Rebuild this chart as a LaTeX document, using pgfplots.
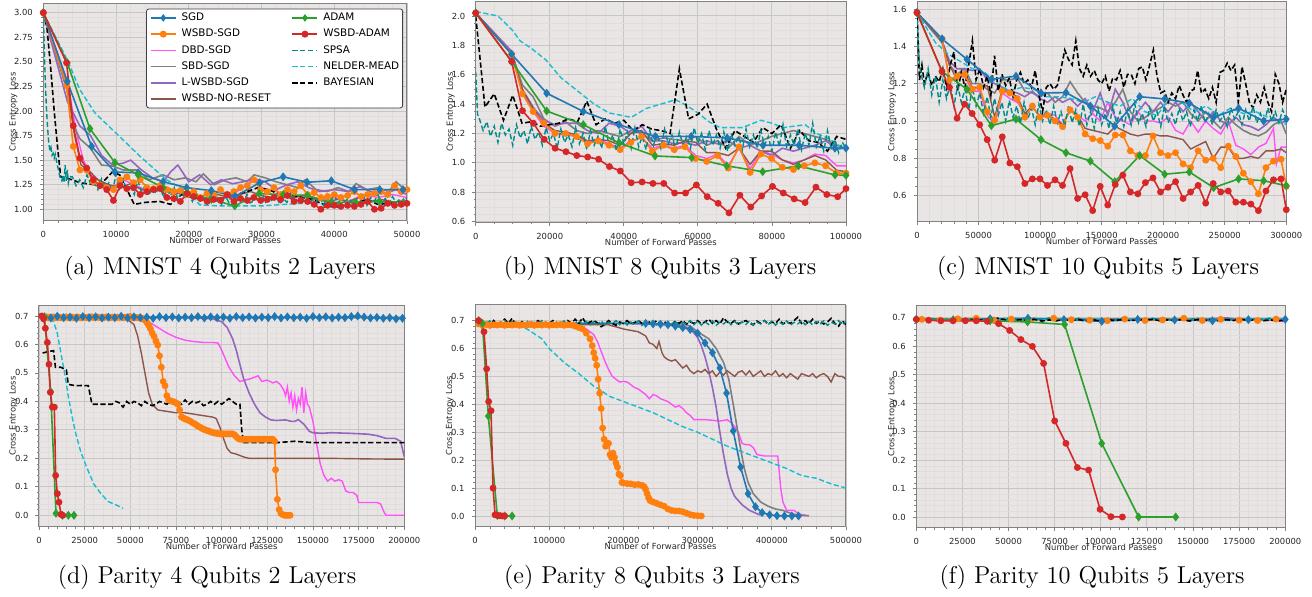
\documentclass[border=0pt]{standalone}
\usepackage{fontspec}
\usepackage{pgfplots}
\pgfplotsset{compat=1.18}
\newfontfamily\dejavu{DejaVu Sans}
\newcommand\tickfont{\dejavu\fontsize{4.2}{5}\selectfont}
\newcommand\legfont{\dejavu\fontsize{5.2}{6.2}\selectfont}
\newcommand\capfont{\fontsize{12.2}{14}\selectfont}
\definecolor{bgc}{RGB}{233,229,229}
\definecolor{gmaj}{RGB}{200,197,197}
\definecolor{gmin}{RGB}{225,221,221}
\definecolor{frm}{RGB}{130,130,130}
\definecolor{csgd}{RGB}{31,119,180}
\definecolor{cwsbd}{RGB}{255,127,14}
\definecolor{cdbd}{RGB}{255,80,250}
\definecolor{csbd}{RGB}{127,127,127}
\definecolor{clw}{RGB}{148,103,189}
\definecolor{cnr}{RGB}{140,86,75}
\definecolor{cadam}{RGB}{44,160,44}
\definecolor{cwadam}{RGB}{214,39,40}
\definecolor{cspsa}{RGB}{0,139,139}
\definecolor{cnm}{RGB}{23,190,207}
\pgfplotsset{
 sSGD/.style={color=csgd, line width=0.8pt, mark=diamond*, mark size=1.6pt},
 sWSBD/.style={color=cwsbd, line width=0.8pt, mark=*, mark size=1.3pt},
 sDBD/.style={color=cdbd, line width=0.7pt, mark=none},
 sSBD/.style={color=csbd, line width=0.8pt, mark=none},
 sLW/.style={color=clw, line width=0.8pt, mark=none},
 sNR/.style={color=cnr, line width=0.7pt, mark=none},
 sADAM/.style={color=cadam, line width=0.8pt, mark=diamond*, mark size=1.6pt},
 sWADAM/.style={color=cwadam, line width=0.8pt, mark=*, mark size=1.3pt},
 sSPSA/.style={color=cspsa, line width=0.7pt, dash pattern=on 2.6pt off 1.3pt, mark=none},
 sNM/.style={color=cnm, line width=0.7pt, dash pattern=on 2.6pt off 1.3pt, mark=none},
 sBAY/.style={color=black, line width=0.8pt, dash pattern=on 2.6pt off 1.3pt, mark=none},
 panel/.style={
  scale only axis, anchor=south west,
  axis background/.style={fill=bgc},
  grid=both,
  major grid style={draw=gmaj, line width=0.45pt},
  minor grid style={draw=gmin, line width=0.3pt},
  axis line style={draw=frm, line width=0.5pt},
  tick align=outside, xtick pos=left, ytick pos=left,
  major tick style={draw=frm, line width=0.4pt},
  minor tick style={draw=frm, line width=0.3pt},
  major tick length=1.75pt, minor tick length=1pt,
  /pgf/number format/assume math mode=true,
  tick label style={font=\tickfont, text=black!85},
  xticklabel style={/pgf/number format/.cd, fixed, 1000 sep={}},
  scaled x ticks=false, scaled y ticks=false,
  xlabel={Number of Forward Passes},
  every axis x label/.style={at={([yshift=-9.8pt]axis description cs:0.5,0)}, anchor=center, font=\tickfont, text=black!85},
  xmin=0,
 },
 lgline/.style 2 args={legend image code/.code={\draw[draw=#1, line width=0.8pt, #2] (0pt,0pt) -- (12.5pt,0pt);}},
 lgmark/.style 2 args={legend image code/.code={\draw[draw=#1, line width=0.8pt] (0pt,0pt) -- (12.5pt,0pt); \draw[draw=#1, fill=#1, line width=0.5pt, mark=#2, mark size=1.5pt] plot coordinates {(6.25pt,0pt)};}},
}
\tikzset{ylab/.style={rotate=90, anchor=center, font=\tickfont, text=black!85}}
\begin{document}
\begin{tikzpicture}
\path[use as bounding box] (0,0) rectangle (656pt,298.5pt);
% ================= (a)
\begin{axis}[panel, at={(21.65pt,188.15pt)}, width=181.85pt, height=108.7pt,
 xmax=50000, ymin=0.884, ymax=3.0956,
 xtick={0,10000,20000,30000,40000,50000}, ytick={1.00,1.25,1.50,1.75,2.00,2.25,2.50,2.75,3.00},
 minor x tick num=4, minor y tick num=4,
 yticklabel style={/pgf/number format/.cd, fixed, fixed zerofill, precision=2},
 legend columns=2, legend cell align=left,
 legend style={at={(0.988,0.974)}, anchor=north east, draw=none, fill=white, name=legA,
   font=\legfont, inner xsep=1.5pt, inner ysep=1.8pt, row sep=3.1pt,
   nodes={inner sep=0pt, text height=3.9pt, text depth=1.1pt},
   /tikz/every odd column/.append style={column sep=2.5pt},
   /tikz/every even column/.append style={column sep=10.5pt}},
]
\addlegendimage{lgmark={csgd}{diamond*}}\addlegendentry{SGD}
\addlegendimage{lgmark={cadam}{diamond*}}\addlegendentry{ADAM}
\addlegendimage{lgmark={cwsbd}{*}}\addlegendentry{WSBD-SGD}
\addlegendimage{lgmark={cwadam}{*}}\addlegendentry{WSBD-ADAM}
\addlegendimage{lgline={cdbd}{solid}}\addlegendentry{DBD-SGD}
\addlegendimage{lgline={cspsa}{dash pattern=on 2.6pt off 1.3pt}}\addlegendentry{SPSA}
\addlegendimage{lgline={csbd}{solid}}\addlegendentry{SBD-SGD}
\addlegendimage{lgline={cnm}{dash pattern=on 2.6pt off 1.3pt}}\addlegendentry{NELDER-MEAD}
\addlegendimage{lgline={clw}{solid}}\addlegendentry{L-WSBD-SGD}
\addlegendimage{lgline={black}{dash pattern=on 2.6pt off 1.3pt}}\addlegendentry{BAYESIAN}
\addlegendimage{lgline={cnr}{solid}}\addlegendentry{WSBD-NO-RESET}
\addplot[sDBD, forget plot] coordinates {(0,3.0)(3300,2.3)(4500,1.8)(5500,1.5)(6500,1.35)(8000,1.28)(9500,1.22)(11000,1.30)(12500,1.25)(14000,1.20)(16000,1.22)(18000,1.18)(20000,1.15)(22000,1.12)(24000,1.10)(26000,1.15)(28000,1.25)(29000,1.32)(30000,1.22)(32000,1.18)(34000,1.12)(36000,1.15)(38000,1.10)(40000,1.12)(42000,1.08)(44000,1.15)(46000,1.12)(48000,1.15)(50000,1.12)};
\addplot[sSBD, forget plot] coordinates {(0,3.0)(3300,2.2)(4200,1.85)(5000,1.72)(6500,1.62)(8000,1.45)(9500,1.44)(11000,1.40)(13000,1.40)(14500,1.30)(16500,1.35)(18000,1.30)(19500,1.32)(21000,1.28)(22000,1.36)(23500,1.25)(25000,1.30)(26500,1.32)(28000,1.28)(29000,1.35)(30500,1.32)(32000,1.28)(33500,1.25)(35000,1.22)(36000,1.30)(37500,1.20)(39000,1.18)(40500,1.22)(42000,1.18)(43000,1.26)(44500,1.20)(46000,1.22)(47500,1.18)(48500,1.28)(50000,1.18)};
\addplot[sLW, forget plot] coordinates {(0,3.0)(3300,2.1)(5000,1.85)(6500,1.75)(8000,1.55)(9500,1.45)(11000,1.47)(12000,1.50)(13500,1.40)(15000,1.32)(16500,1.28)(17500,1.38)(18500,1.45)(20000,1.28)(21500,1.35)(23000,1.25)(24500,1.30)(26000,1.26)(27500,1.28)(29000,1.31)(30500,1.28)(32000,1.20)(33500,1.25)(35000,1.28)(36500,1.22)(38000,1.18)(40000,1.20)(42000,1.18)(43500,1.23)(45000,1.18)(47000,1.16)(48500,1.20)(50000,1.15)};
\addplot[sNR, forget plot] coordinates {(0,3.0)(3300,2.25)(4300,1.75)(5200,1.45)(6200,1.40)(7500,1.30)(9000,1.25)(10500,1.22)(12000,1.26)(13500,1.20)(15000,1.18)(16500,1.22)(18000,1.15)(19500,1.18)(21000,1.12)(22500,1.10)(24000,1.15)(25500,1.12)(27000,1.15)(28500,1.18)(30000,1.14)(31500,1.12)(33000,1.16)(34500,1.12)(36000,1.14)(37500,1.10)(39000,1.08)(40500,1.10)(42000,1.08)(43500,1.12)(45000,1.08)(46500,1.10)(48000,1.07)(50000,1.08)};
\addplot[sNM, forget plot] coordinates {(0,3.0)(3430,2.5)(5000,2.22)(7100,1.98)(10070,1.77)(13280,1.54)(16940,1.30)(19900,1.18)(21520,1.045)(23800,1.035)(30200,1.035)(35250,1.06)(39800,1.06)(44400,1.09)(47000,1.07)(50000,1.06)};
\addplot[sBAY, forget plot] coordinates {(0,3.0)(500,2.85)(1000,2.45)(1500,2.0)(2000,1.6)(2400,1.33)(4000,1.30)(5000,1.27)(7000,1.25)(8500,1.30)(9500,1.38)(10500,1.35)(11500,1.20)(12500,1.05)(14000,1.07)(16000,1.08)(17500,1.05)(19000,1.15)(20500,1.12)(22000,1.10)(23500,1.10)(25000,1.12)(26500,1.15)(28000,1.18)(29500,1.22)(31000,1.20)(32500,1.15)(34000,1.15)(35500,1.12)(37000,1.10)(38500,1.05)(40000,1.02)(41500,1.04)(43000,1.06)(44500,1.10)(46000,1.05)(47500,1.06)(49000,1.08)(50000,1.08)};
\addplot[sWSBD, forget plot] coordinates {(0,3.0)(3200,2.26)(4120,1.64)(5040,1.40)(5960,1.40)(6880,1.28)(7800,1.25)(8720,1.22)(9640,1.20)(10560,1.30)(11480,1.33)(12400,1.27)(13320,1.30)(14240,1.22)(15160,1.21)(16080,1.24)(17000,1.20)(17920,1.18)(18840,1.19)(19760,1.15)(20680,1.18)(21600,1.12)(22520,1.16)(23440,1.14)(24360,1.20)(25280,1.15)(26200,1.18)(27120,1.22)(28040,1.24)(28960,1.30)(29880,1.20)(30800,1.18)(31720,1.22)(32640,1.15)(33560,1.20)(34480,1.18)(35400,1.24)(36320,1.15)(37240,1.17)(38160,1.12)(39080,1.13)(40000,1.15)(40920,1.12)(41840,1.14)(42760,1.18)(43680,1.13)(44600,1.15)(45520,1.16)(46440,1.18)(47360,1.15)(48280,1.24)(49200,1.18)(50000,1.20)};
\addplot[sSPSA, forget plot] coordinates {(0,3.0)(150,2.6)(300,2.25)(450,2.0)(600,1.82)(750,1.68)(900,1.6)(1050,1.63)(1200,1.55)(1350,1.57)(1500,1.52)(1650,1.56)(1800,1.50)(1950,1.44)(2100,1.40)(2250,1.34)(2400,1.31)(2550,1.29)(2700,1.35)(2850,1.27)(3000,1.45)(3150,1.29)(3300,1.40)(3450,1.27)(3600,1.33)
(4000,1.33)(4500,1.24)(5000,1.30)(5500,1.22)(6000,1.35)(6500,1.26)(7000,1.28)(7500,1.20)(8000,1.31)(8500,1.22)(9000,1.27)(9500,1.17)(10000,1.36)(10500,1.21)(11000,1.30)(11500,1.19)(12000,1.25)(12500,1.15)(13000,1.29)(13500,1.18)(14000,1.24)(14500,1.14)(15000,1.22)(15500,1.16)(16000,1.26)(16500,1.12)(17000,1.20)(17500,1.14)(18000,1.22)(18500,1.10)(19000,1.18)(19500,1.12)(20000,1.15)(20500,1.08)(21000,1.17)(21500,1.09)(22000,1.13)(22500,1.06)(23000,1.16)(23500,1.08)(24000,1.12)(24500,1.05)(25000,1.14)(25500,1.07)(26000,1.18)(26500,1.06)(27000,1.13)(27500,1.08)(28000,1.15)(28500,1.05)(29000,1.12)(29500,1.09)(30000,1.17)(30500,1.06)(31000,1.13)(31500,1.08)(32000,1.14)(32500,1.05)(33000,1.11)(33500,1.07)(34000,1.16)(34500,1.06)(35000,1.12)(35500,1.08)(36000,1.14)(36500,1.05)(37000,1.10)(37500,1.07)(38000,1.13)(38500,1.04)(39000,1.12)(39500,1.08)(40000,1.15)(40500,1.06)(41000,1.11)(41500,1.07)(42000,1.13)(42500,1.05)(43000,1.10)(43500,1.07)(44000,1.14)(44500,1.04)(45000,1.12)(45500,1.08)(46000,1.15)(46500,1.06)(47000,1.11)(47500,1.05)(48000,1.13)(48500,1.07)(49000,1.10)(49500,1.06)(50000,1.12)};
\addplot[sSGD, forget plot] coordinates {(0,3.0)(3300,2.30)(6640,1.64)(9840,1.38)(13050,1.37)(16480,1.28)(19700,1.22)(23100,1.19)(26330,1.13)(29760,1.27)(32970,1.33)(36260,1.275)(39600,1.29)(42800,1.20)(46250,1.20)(49450,1.20)};
\addplot[sADAM, forget plot] coordinates {(0,3.0)(3300,2.49)(6410,1.82)(9840,1.475)(13050,1.35)(16480,1.22)(19800,1.17)(23100,1.10)(26330,1.035)(29670,1.16)(33000,1.15)(36300,1.14)(39600,1.07)(42900,1.07)(46200,1.08)(49500,1.07)};
\addplot[sWADAM, forget plot] coordinates {(0,3.0)(3200,2.49)(4120,1.85)(5040,1.52)(5960,1.42)(6880,1.30)(7800,1.24)(8720,1.20)(9640,1.09)(10560,1.24)(11480,1.21)(12400,1.22)(13320,1.15)(14240,1.18)(15160,1.20)(16080,1.21)(17000,1.12)(17920,1.11)(18840,1.08)(19760,1.16)(20680,1.13)(21600,1.11)(22520,1.08)(23440,1.10)(24360,1.09)(25280,1.15)(26200,1.08)(27120,1.11)(28040,1.09)(28960,1.12)(29880,1.09)(30800,1.10)(31720,1.12)(32640,1.10)(33560,1.14)(34480,1.08)(35400,1.09)(36320,1.08)(37240,1.05)(38160,1.00)(39080,1.04)(40000,1.04)(40920,1.03)(41840,1.04)(42760,1.03)(43680,1.05)(44600,1.08)(45520,1.00)(46440,1.01)(47360,1.06)(48280,1.04)(49200,1.05)(50000,1.06)};
\end{axis}
\draw[black!75, line width=0.4pt, rounded corners=1.2pt] (legA.south west) rectangle (legA.north east);
% ================= (b)
\begin{axis}[panel, at={(237.85pt,187.25pt)}, width=185.15pt, height=110.25pt,
 xmax=100000, ymin=0.5945, ymax=2.095,
 xtick={0,20000,40000,60000,80000,100000}, ytick={0.6,0.8,1.0,1.2,1.4,1.6,1.8,2.0},
 minor x tick num=3, minor y tick num=3,
 yticklabel style={/pgf/number format/.cd, fixed, fixed zerofill, precision=1},
]
\addplot[sDBD] coordinates {(0,2.02)(9700,1.74)(12600,1.48)(15500,1.35)(18400,1.25)(21400,1.20)(24300,1.19)(27200,1.18)(30200,1.14)(33100,1.16)(36000,1.13)(39000,1.10)(41900,1.15)(44800,1.17)(47700,1.10)(50700,1.12)(53600,1.10)(56500,1.12)(59400,1.05)(62400,1.03)(65300,1.06)(68200,0.98)(71100,1.10)(74100,0.96)(77000,1.08)(79900,1.06)(82800,1.02)(85800,1.00)(88700,1.02)(91600,1.06)(94500,1.05)(97500,0.98)(100000,0.98)};
\addplot[sSBD] coordinates {(0,2.02)(9700,1.75)(12600,1.53)(15500,1.45)(18400,1.30)(21400,1.25)(24300,1.28)(27200,1.22)(30200,1.20)(33100,1.22)(36000,1.20)(39000,1.18)(41900,1.22)(44800,1.20)(47700,1.15)(50700,1.17)(53600,1.16)(56500,1.15)(59400,1.18)(62400,1.12)(65300,1.15)(68200,1.10)(71100,1.18)(74100,1.12)(77000,1.15)(79900,1.18)(82800,1.20)(85800,1.22)(88700,1.20)(91600,1.18)(94500,1.16)(97500,1.12)(100000,1.10)};
\addplot[sLW] coordinates {(0,2.02)(9700,1.76)(12600,1.50)(15500,1.38)(18400,1.29)(21400,1.26)(24300,1.27)(27200,1.27)(30200,1.22)(33100,1.20)(36000,1.27)(39000,1.25)(41900,1.20)(44800,1.25)(47700,1.15)(50700,1.15)(53600,1.13)(56500,1.14)(59400,1.12)(62400,1.15)(65300,1.13)(68200,1.15)(71100,1.10)(74100,1.12)(77000,1.08)(79900,1.05)(82800,1.10)(85800,1.08)(88700,1.10)(91600,1.12)(94500,1.15)(97500,1.10)(100000,1.10)};
\addplot[sNR] coordinates {(0,2.02)(9700,1.74)(12600,1.50)(15500,1.37)(18400,1.27)(21400,1.22)(24300,1.21)(27200,1.19)(30200,1.15)(33100,1.16)(36000,1.15)(39000,1.12)(41900,1.20)(44800,1.22)(47700,1.12)(50700,1.13)(53600,1.12)(56500,1.15)(59400,1.14)(62400,1.07)(65300,1.07)(68200,1.05)(71100,1.10)(74100,0.99)(77000,1.08)(79900,1.08)(82800,1.02)(85800,0.99)(88700,1.02)(91600,1.05)(94500,1.02)(97500,0.95)(100000,0.94)};
\addplot[sNM] coordinates {(0,2.03)(6000,2.0)(10000,1.90)(12000,1.83)(15000,1.78)(19000,1.70)(23000,1.58)(28000,1.48)(32000,1.40)(36000,1.34)(40000,1.32)(42000,1.31)(46000,1.37)(50000,1.40)(54000,1.43)(57000,1.39)(60000,1.34)(63000,1.28)(66000,1.24)(69000,1.24)(72000,1.24)(75000,1.27)(77000,1.29)(80000,1.27)(83000,1.24)(86000,1.25)(89000,1.26)(92000,1.20)(95000,1.17)(98000,1.12)(100000,1.10)};
\addplot[sBAY] coordinates {(0,2.0)(2500,1.38)(5000,1.47)(7500,1.29)(10000,1.46)(12500,1.27)(15000,1.28)(17500,1.25)(20000,1.26)(22500,1.27)(25000,1.30)(27500,1.28)(30000,1.42)(32500,1.26)(35000,1.30)(37500,1.27)(40000,1.29)(42500,1.22)(45000,1.26)(47500,1.23)(50000,1.22)(52500,1.20)(55000,1.64)(57500,1.30)(60000,1.33)(62500,1.40)(65000,1.23)(67500,1.10)(70000,1.22)(72500,1.18)(75000,1.14)(77500,1.24)(80000,1.20)(82500,1.26)(85000,1.10)(87500,1.22)(90000,1.15)(92500,1.14)(95000,1.08)(97500,1.18)(100000,1.16)};
\addplot[sWSBD] coordinates {(0,2.02)(9700,1.74)(12600,1.47)(15500,1.35)(18400,1.27)(21400,1.20)(24300,1.20)(27200,1.18)(30200,1.13)(33100,1.15)(36000,1.12)(39000,1.09)(41900,1.14)(44800,1.18)(47700,1.08)(50700,1.12)(53600,1.09)(56500,1.11)(59400,1.03)(62400,1.01)(65300,1.05)(68200,0.965)(71100,1.11)(74100,0.935)(77000,1.06)(79900,1.03)(82800,0.97)(85800,0.955)(88700,0.98)(91600,1.00)(94500,0.98)(97500,0.93)(100000,0.93)};
\addplot[sSPSA] coordinates {(0,1.62)(500,1.33)(1000,1.30)(2000,1.22)(3000,1.28)(4000,1.18)(5000,1.25)(6000,1.14)(7000,1.27)(8000,1.19)(9000,1.23)(10000,1.12)(11000,1.26)(12000,1.17)(13000,1.22)(14000,1.13)(15000,1.25)(16000,1.16)(17000,1.21)(18000,1.12)(19000,1.24)(20000,1.15)(21000,1.20)(22000,1.10)(23000,1.23)(24000,1.14)(25000,1.19)(26000,1.11)(27000,1.24)(28000,1.13)(29000,1.20)(30000,1.09)(31000,1.22)(32000,1.12)(33000,1.18)(34000,1.10)(35000,1.25)(36000,1.12)(37000,1.19)(38000,1.08)(39000,1.23)(40000,1.13)(41000,1.21)(42000,1.10)(43000,1.24)(44000,1.11)(45000,1.18)(46000,1.09)(47000,1.22)(48000,1.12)(49000,1.20)(50000,1.10)(51000,1.23)(52000,1.13)(53000,1.19)(54000,1.09)(55000,1.21)(56000,1.12)(57000,1.18)(58000,1.10)(59000,1.24)(60000,1.13)(61000,1.20)(62000,1.09)(63000,1.22)(64000,1.12)(65000,1.19)(66000,1.10)(67000,1.21)(68000,1.08)(69000,1.20)(70000,1.12)(71000,1.18)(72000,1.09)(73000,1.23)(74000,1.11)(75000,1.19)(76000,1.10)(77000,1.22)(78000,1.12)(79000,1.18)(80000,1.08)(81000,1.21)(82000,1.11)(83000,1.26)(84000,1.10)(85000,1.19)(86000,1.12)(87000,1.23)(88000,1.09)(89000,1.20)(90000,1.12)(91000,1.27)(92000,1.11)(93000,1.18)(94000,1.08)(95000,1.22)(96000,1.10)(97000,1.16)(98000,1.07)(99000,1.14)(100000,1.10)};
\addplot[sSGD] coordinates {(0,2.02)(9700,1.74)(19170,1.474)(29070,1.35)(38700,1.26)(48500,1.18)(58200,1.18)(67900,1.17)(77600,1.12)(87300,1.12)(97000,1.10)(100000,1.10)};
\addplot[sADAM] coordinates {(0,2.02)(9720,1.69)(19170,1.353)(29070,1.26)(38800,1.135)(48430,1.047)(58330,1.036)(67780,0.98)(77500,0.94)(87130,0.98)(97030,0.918)(100000,0.915)};
\addplot[sWADAM] coordinates {(0,2.02)(9700,1.69)(12635,1.355)(15570,1.27)(18500,1.16)(21440,1.10)(24375,1.076)(27310,1.05)(30245,1.04)(33180,1.025)(36115,0.975)(39050,0.945)(41985,0.865)(44920,0.87)(47855,0.86)(50790,0.86)(53725,0.795)(56660,0.795)(59595,0.85)(62530,0.77)(65465,0.725)(68400,0.66)(71335,0.78)(74270,0.70)(77205,0.775)(80140,0.84)(83075,0.795)(86010,0.755)(88945,0.73)(91880,0.835)(94815,0.785)(97750,0.77)(100000,0.825)};
\end{axis}
% ================= (c)
\begin{axis}[panel, at={(458.5pt,187.65pt)}, width=184.65pt, height=110.1pt,
 xmax=300000, ymin=0.4607, ymax=1.640,
 xtick={0,50000,100000,150000,200000,250000,300000}, ytick={0.6,0.8,1.0,1.2,1.4,1.6},
 minor x tick num=4, minor y tick num=3,
 yticklabel style={/pgf/number format/.cd, fixed, fixed zerofill, precision=1},
]
\addplot[sDBD] coordinates {(0,1.58)(20300,1.44)(26420,1.22)(32540,1.23)(38660,1.24)(44780,1.16)(50900,1.16)(57020,1.03)(63140,0.985)(69260,1.15)(75380,1.12)(81500,1.10)(87620,1.04)(93740,1.07)(99860,1.03)(105980,1.04)(112100,1.03)(118220,0.98)(124340,1.06)(130460,1.03)(136580,1.00)(142700,1.04)(148820,1.00)(154940,1.10)(161060,1.02)(167180,1.00)(173300,0.98)(179420,1.05)(185540,1.00)(191660,1.00)(197780,0.99)(203900,1.02)(210020,0.95)(216140,0.93)(222260,1.00)(228380,0.94)(234500,1.00)(240620,0.96)(246740,0.93)(252860,1.00)(258980,0.87)(265100,0.85)(271220,0.82)(277340,0.86)(283460,0.88)(289580,0.96)(292000,0.77)(295700,0.86)(300000,0.86)};
\addplot[sSBD] coordinates {(0,1.58)(20300,1.42)(26420,1.30)(32540,1.25)(38660,1.28)(44780,1.20)(50900,1.20)(57020,1.17)(63140,1.15)(69260,1.22)(75380,1.22)(81500,1.23)(87620,1.16)(93740,1.15)(99860,1.13)(105980,1.15)(112100,1.10)(118220,1.13)(124340,1.21)(130460,1.15)(136580,1.10)(142700,1.08)(148820,1.07)(154940,1.05)(161060,1.10)(167180,1.17)(173300,1.05)(179420,1.00)(185540,1.02)(191660,1.05)(197780,1.07)(203900,1.10)(210020,1.08)(216140,1.10)(222260,1.04)(228380,1.00)(234500,1.05)(240620,1.00)(246740,0.96)(252860,1.02)(258980,0.98)(265100,0.95)(271220,0.93)(277340,0.92)(283460,0.94)(289580,0.98)(295700,1.00)(300000,0.93)};
\addplot[sLW] coordinates {(0,1.58)(20300,1.43)(26420,1.32)(32540,1.28)(38660,1.28)(44780,1.27)(50900,1.28)(57020,1.22)(63140,1.20)(69260,1.18)(75380,1.16)(81500,1.15)(87620,1.13)(93740,1.16)(99860,1.12)(105980,1.10)(112100,1.13)(118220,1.10)(124340,1.12)(130460,1.08)(136580,1.12)(142700,1.05)(148820,1.15)(154940,1.03)(161060,1.17)(167180,1.10)(173300,1.00)(179420,1.05)(185540,1.10)(191660,1.05)(197780,1.10)(203900,1.05)(210020,1.10)(216140,1.05)(222260,1.10)(228380,1.05)(234500,1.00)(240620,1.05)(246740,1.00)(252860,0.98)(258980,1.02)(265100,0.98)(271220,0.97)(277340,0.95)(283460,0.98)(289580,1.02)(295700,0.99)(300000,1.00)};
\addplot[sNR] coordinates {(0,1.58)(20300,1.43)(26420,1.30)(32540,1.22)(38660,1.26)(44780,1.18)(50900,1.18)(57020,1.19)(63140,1.02)(69260,1.17)(75380,1.15)(81500,1.13)(87620,1.04)(93740,1.08)(99860,1.02)(105980,1.03)(112100,1.01)(118220,0.98)(124340,1.06)(130460,1.03)(136580,0.96)(142700,0.95)(148820,0.94)(154940,0.93)(161060,0.97)(167180,0.95)(173300,0.93)(179420,0.92)(185540,0.93)(191660,0.93)(197780,0.92)(203900,0.92)(210020,0.91)(216140,0.90)(222260,0.85)(228380,0.87)(234500,0.89)(240620,0.80)(246740,0.86)(252860,0.86)(258980,0.80)(265100,0.80)(271220,0.81)(277340,0.80)(283460,0.84)(289580,0.84)(295700,0.85)(300000,0.83)};
\addplot[sNM] coordinates {(0,1.58)(15000,1.42)(25000,1.36)(35000,1.32)(45000,1.28)(55000,1.26)(65000,1.20)(75000,1.16)(85000,1.18)(95000,1.17)(105000,1.13)(115000,1.13)(125000,1.12)(135000,1.10)(145000,1.13)(155000,1.10)(165000,1.08)(175000,1.12)(185000,1.05)(195000,1.03)(205000,1.12)(215000,1.10)(225000,1.05)(235000,1.08)(245000,1.03)(255000,1.07)(265000,1.04)(275000,1.05)(285000,1.02)(295000,1.00)(300000,0.98)};
\addplot[sBAY] coordinates {(0,1.60)(2000,1.22)(4000,1.30)(6000,1.20)(9000,1.26)(12000,1.19)(15000,1.24)(18000,1.21)(21000,1.28)(24000,1.18)(27000,1.30)(30000,1.37)(33000,1.16)(36000,1.26)(39000,1.18)(42000,1.30)(45000,1.43)(48000,1.22)(51000,1.28)(54000,1.18)(57000,1.24)(60000,1.14)(63000,1.35)(66000,1.16)(69000,1.25)(72000,1.19)(75000,1.23)(78000,1.13)(81000,1.22)(84000,1.26)(87000,1.20)(90000,1.22)(93000,1.18)(96000,1.27)(99000,1.14)(102000,1.05)(105000,1.18)(108000,1.20)(111000,1.17)(114000,1.19)(117000,1.28)(120000,1.38)(123000,1.33)(126000,1.30)(129000,1.43)(132000,1.28)(135000,1.24)(138000,1.30)(141000,1.24)(144000,1.27)(147000,1.22)(150000,1.20)(153000,1.24)(156000,1.16)(159000,1.23)(162000,1.22)(165000,1.27)(168000,1.18)(171000,1.25)(174000,1.25)(177000,1.20)(180000,1.28)(183000,1.29)(186000,1.22)(189000,1.30)(192000,1.38)(195000,1.24)(198000,1.15)(201000,1.16)(204000,1.10)(207000,1.15)(210000,1.12)(213000,1.19)(216000,1.14)(219000,1.10)(222000,1.16)(225000,1.17)(228000,1.27)(231000,1.15)(234000,1.17)(237000,1.12)(240000,1.18)(243000,1.10)(246000,1.26)(249000,1.27)(252000,1.31)(255000,1.27)(258000,1.30)(261000,1.10)(264000,1.29)(267000,1.20)(270000,1.10)(273000,1.07)(276000,1.14)(279000,1.10)(282000,1.18)(285000,1.10)(288000,1.05)(291000,1.25)(294000,1.20)(297000,1.10)(300000,1.17)};
\addplot[sWSBD] coordinates {(0,1.58)(20300,1.44)(26420,1.22)(32540,1.24)(38660,1.25)(44780,1.17)(50900,1.18)(57020,1.05)(63140,1.005)(69260,1.16)(75380,1.15)(81500,1.12)(87620,1.02)(93740,1.08)(99860,1.02)(105980,1.03)(112100,1.00)(118220,0.97)(124340,1.06)(130460,1.02)(136580,0.93)(142700,0.905)(148820,0.895)(154940,0.865)(161060,0.925)(167180,0.925)(173300,0.84)(179420,0.815)(185540,0.815)(191660,0.92)(197780,0.83)(203900,0.815)(210020,0.83)(216140,0.77)(222260,0.75)(228380,0.84)(234500,0.79)(240620,0.80)(246740,0.75)(252860,0.865)(258980,0.81)(265100,0.72)(271220,0.675)(277340,0.61)(283460,0.75)(289580,0.785)(295700,0.795)(300000,0.65)};
\addplot[sSPSA] coordinates {(0,1.58)(1000,1.40)(2000,1.30)(3000,1.26)(6000,1.18)(9000,1.28)(12000,1.14)(15000,1.24)(18000,1.10)(21000,1.22)(24000,1.12)(27000,1.20)(30000,1.08)(33000,1.19)(36000,1.10)(39000,1.17)(42000,1.06)(45000,1.18)(48000,1.08)(51000,1.15)(54000,1.04)(57000,1.13)(60000,1.02)(63000,1.12)(66000,1.03)(69000,1.10)(72000,1.00)(75000,1.11)(78000,1.02)(81000,1.08)(84000,0.99)(87000,1.10)(90000,1.01)(93000,1.07)(96000,0.98)(99000,1.09)(102000,1.00)(105000,1.06)(108000,0.98)(111000,1.08)(114000,0.99)(117000,1.05)(120000,0.97)(123000,1.08)(126000,0.99)(129000,1.06)(132000,0.97)(135000,1.09)(138000,0.98)(141000,1.05)(144000,0.96)(147000,1.07)(150000,0.98)(153000,1.04)(156000,0.96)(159000,1.08)(162000,0.99)(165000,1.05)(168000,0.97)(171000,1.06)(174000,0.98)(177000,1.09)(180000,0.99)(183000,1.04)(186000,0.97)(189000,1.07)(192000,1.00)(195000,1.05)(198000,0.97)(201000,1.08)(204000,0.99)(207000,1.04)(210000,0.98)(213000,1.07)(216000,1.00)(219000,1.05)(222000,0.97)(225000,1.06)(228000,1.00)(231000,1.08)(234000,0.99)(237000,1.04)(240000,0.98)(243000,1.06)(246000,1.00)(249000,1.03)(252000,0.97)(255000,1.07)(258000,1.01)(261000,1.05)(264000,0.98)(267000,1.06)(270000,1.00)(273000,1.08)(276000,0.99)(279000,1.04)(282000,0.98)(285000,1.07)(288000,1.00)(291000,1.05)(294000,0.99)(297000,1.06)(300000,1.01)};
\addplot[sSGD] coordinates {(0,1.58)(20300,1.44)(40600,1.33)(60400,1.223)(80400,1.24)(100700,1.15)(121000,1.152)(140800,1.08)(160600,0.973)(180900,1.13)(201200,1.118)(221200,1.095)(241000,1.02)(261300,1.068)(281600,1.0)(300000,1.01)};
\addplot[sADAM] coordinates {(0,1.58)(20300,1.265)(40600,1.17)(60400,0.975)(80400,1.01)(100700,0.90)(121000,0.83)(140800,0.785)(160600,0.675)(180900,0.815)(201200,0.715)(221200,0.727)(241000,0.643)(261300,0.69)(281600,0.68)(300000,0.653)};
\addplot[sWADAM] coordinates {(0,1.58)(20300,1.265)(26420,1.18)(32540,1.015)(38660,1.09)(44780,1.04)(50900,0.98)(57020,0.90)(63140,0.79)(69260,0.915)(75380,0.775)(81500,0.755)(87620,0.665)(93740,0.69)(99860,0.69)(105980,0.655)(112100,0.685)(118220,0.655)(124340,0.745)(130460,0.585)(136580,0.605)(142700,0.52)(148820,0.65)(154940,0.55)(161060,0.66)(167180,0.71)(173300,0.62)(179420,0.61)(185540,0.67)(191660,0.695)(197780,0.62)(203900,0.645)(210020,0.675)(216140,0.585)(222260,0.62)(228380,0.655)(234500,0.56)(240620,0.665)(246740,0.62)(252860,0.625)(258980,0.565)(265100,0.565)(271220,0.555)(277340,0.52)(283460,0.625)(289580,0.685)(295700,0.69)(300000,0.525)};
\end{axis}
% ================= (d)
\begin{axis}[panel, at={(19.5pt,35.15pt)}, width=182.65pt, height=110.7pt,
 xmax=200000, ymin=-0.040, ymax=0.7376,
 xtick={0,25000,50000,75000,100000,125000,150000,175000,200000}, ytick={0.0,0.1,0.2,0.3,0.4,0.5,0.6,0.7},
 minor x tick num=4, minor y tick num=4,
 yticklabel style={/pgf/number format/.cd, fixed, fixed zerofill, precision=1},
]
\addplot[sSBD] coordinates {(2000,0.70)(50000,0.696)(100000,0.695)(150000,0.694)(200000,0.694)};
\addplot[sSPSA] coordinates {(2000,0.70)(40000,0.697)(80000,0.695)(120000,0.696)(160000,0.694)(200000,0.694)};
\addplot[sDBD] coordinates {(2000,0.70)(20000,0.695)(45000,0.69)(55000,0.685)(60000,0.68)(65000,0.66)(70000,0.64)(75000,0.625)(80000,0.615)(85000,0.61)(90000,0.607)(95000,0.607)(98000,0.605)(100000,0.58)(102000,0.55)(104000,0.52)(107000,0.49)(110000,0.47)(113000,0.475)(116000,0.48)(118000,0.485)(120000,0.49)(122000,0.47)(125000,0.475)(128000,0.465)(130000,0.47)(132000,0.46)(134000,0.44)(135000,0.42)(136000,0.45)(137000,0.40)(138000,0.43)(139000,0.38)(140000,0.42)(141000,0.37)(142000,0.41)(143000,0.39)(144000,0.45)(145000,0.36)(146000,0.43)(147000,0.39)(148000,0.38)(150000,0.33)(152000,0.25)(154000,0.18)(156000,0.14)(158000,0.12)(160000,0.13)(162000,0.12)(164000,0.125)(166000,0.12)(168000,0.085)(170000,0.08)(172000,0.08)(174000,0.07)(175000,0.045)(180000,0.045)(185000,0.045)(187000,0.04)(189000,0.01)(190000,0.0)(200000,0.0)};
\addplot[sLW] coordinates {(2000,0.70)(50000,0.695)(80000,0.695)(95000,0.69)(100000,0.68)(103000,0.66)(106000,0.62)(108000,0.58)(110000,0.53)(112000,0.48)(115000,0.43)(118000,0.39)(121000,0.36)(124000,0.345)(127000,0.335)(130000,0.333)(135000,0.335)(138000,0.33)(140000,0.33)(142000,0.336)(145000,0.32)(148000,0.295)(150000,0.29)(155000,0.288)(160000,0.29)(170000,0.288)(180000,0.285)(185000,0.28)(190000,0.27)(195000,0.27)(198000,0.26)(200000,0.205)};
\addplot[sNR] coordinates {(2000,0.70)(40000,0.695)(48000,0.69)(52000,0.67)(54000,0.63)(56000,0.57)(58000,0.50)(60000,0.43)(62000,0.39)(65000,0.37)(70000,0.365)(75000,0.36)(80000,0.36)(85000,0.355)(90000,0.35)(95000,0.345)(97000,0.34)(99000,0.31)(101000,0.27)(103000,0.235)(105000,0.22)(108000,0.215)(110000,0.21)(112000,0.205)(115000,0.20)(120000,0.20)(140000,0.20)(160000,0.20)(180000,0.198)(200000,0.197)};
\addplot[sNM] coordinates {(2000,0.70)(5000,0.695)(7000,0.685)(8000,0.68)(10000,0.64)(12000,0.57)(14000,0.50)(16000,0.42)(18000,0.35)(20000,0.29)(23000,0.22)(26000,0.17)(30000,0.11)(34000,0.075)(38000,0.048)(42000,0.037)(46000,0.025)};
\addplot[sBAY] coordinates {(2000,0.57)(5000,0.575)(8000,0.578)(9000,0.52)(12000,0.52)(15000,0.51)(16000,0.46)(20000,0.455)(24000,0.456)(27000,0.455)(29000,0.39)(35000,0.39)(40000,0.39)(42000,0.40)(44000,0.395)(46000,0.38)(48000,0.40)(50000,0.39)(52000,0.40)(54000,0.395)(56000,0.385)(58000,0.40)(60000,0.39)(62000,0.385)(64000,0.39)(66000,0.40)(68000,0.395)(70000,0.39)(72000,0.40)(74000,0.395)(76000,0.40)(78000,0.39)(80000,0.405)(82000,0.39)(84000,0.40)(86000,0.395)(88000,0.40)(90000,0.385)(92000,0.39)(94000,0.40)(96000,0.39)(98000,0.40)(100000,0.39)(102000,0.40)(104000,0.41)(106000,0.40)(108000,0.39)(110000,0.39)(111000,0.30)(112000,0.255)(120000,0.255)(130000,0.255)(140000,0.26)(150000,0.255)(160000,0.255)(170000,0.255)(180000,0.255)(190000,0.255)(200000,0.255)};
\addplot[sWSBD] coordinates {(3000,0.695)(4000,0.697)(5000,0.694)(6000,0.696)(7000,0.695)(8000,0.697)(9000,0.694)(10000,0.696)(11000,0.695)(12000,0.694)(13000,0.696)(14000,0.695)(15000,0.697)(16000,0.694)(17000,0.695)(18000,0.696)(19000,0.694)(20000,0.695)(21000,0.697)(22000,0.695)(23000,0.694)(24000,0.696)(25000,0.695)(26000,0.694)(27000,0.696)(28000,0.695)(29000,0.697)(30000,0.694)(31000,0.695)(32000,0.696)(33000,0.695)(34000,0.694)(35000,0.696)(36000,0.695)(37000,0.697)(38000,0.695)(39000,0.694)(40000,0.696)(41000,0.695)(42000,0.694)(43000,0.696)(44000,0.695)(45000,0.697)(46000,0.694)(47000,0.695)(48000,0.696)(49000,0.697)(50000,0.698)(51000,0.695)(52000,0.694)(53000,0.695)(54000,0.694)(55000,0.694)(56000,0.693)(57000,0.69)(58000,0.685)(59000,0.678)(60000,0.668)(61000,0.655)(62000,0.64)(63000,0.628)(64000,0.612)(65000,0.598)(66000,0.56)(67000,0.52)(68000,0.47)(69000,0.455)(70000,0.42)(71000,0.405)(72000,0.402)(73000,0.40)(74000,0.398)(75000,0.395)(76000,0.39)(77000,0.37)(78000,0.345)(79000,0.342)(80000,0.338)(81000,0.336)(82000,0.333)(83000,0.33)(84000,0.325)(85000,0.322)(86000,0.318)(87000,0.313)(88000,0.31)(89000,0.306)(90000,0.303)(91000,0.30)(92000,0.298)(93000,0.296)(94000,0.293)(95000,0.291)(96000,0.289)(97000,0.288)(98000,0.287)(99000,0.286)(100000,0.286)(101000,0.286)(102000,0.286)(103000,0.286)(104000,0.286)(105000,0.286)(106000,0.286)(107000,0.283)(108000,0.276)(109000,0.27)(110000,0.267)(111000,0.267)(112000,0.267)(113000,0.267)(114000,0.267)(115000,0.267)(116000,0.267)(117000,0.267)(118000,0.267)(119000,0.267)(120000,0.267)(121000,0.267)(122000,0.267)(123000,0.267)(124000,0.267)(125000,0.267)(126000,0.267)(127000,0.267)(128000,0.267)(129000,0.26)(129500,0.16)(130500,0.056)(131500,0.02)(132500,0.006)(133500,0.002)(134500,0.0)(135500,0.0)(136500,0.0)(137500,0.0)};
\addplot[sSGD] coordinates {(3000,0.697)(6500,0.693)(10000,0.699)(13500,0.694)(17000,0.696)(20500,0.692)(24000,0.698)(27500,0.694)(31000,0.697)(34500,0.693)(38000,0.696)(41500,0.694)(45000,0.699)(48500,0.693)(52000,0.697)(55500,0.694)(59000,0.696)(62500,0.692)(66000,0.698)(69500,0.694)(73000,0.697)(76500,0.693)(80000,0.696)(83500,0.694)(87000,0.698)(90500,0.693)(94000,0.697)(97500,0.694)(101000,0.696)(104500,0.692)(108000,0.698)(111500,0.694)(115000,0.697)(118500,0.693)(122000,0.696)(125500,0.694)(129000,0.698)(132500,0.693)(136000,0.697)(139500,0.694)(143000,0.696)(146500,0.692)(150000,0.698)(153500,0.694)(157000,0.697)(160500,0.693)(164000,0.696)(167500,0.694)(171000,0.698)(174500,0.700)(178000,0.696)(181500,0.693)(185000,0.695)(188500,0.692)(192000,0.694)(195500,0.690)(199000,0.692)};
\addplot[sADAM] coordinates {(3000,0.695)(6390,0.434)(9300,0.007)(12800,0.0)(16060,0.0)(19160,0.0)};
\addplot[sWADAM] coordinates {(1500,0.70)(2500,0.69)(3470,0.657)(4560,0.607)(5470,0.53)(6200,0.432)(7300,0.38)(8390,0.38)(9120,0.14)(10040,0.076)(10950,0.046)(12040,0.003)(13000,0.0)};
\end{axis}
% ================= (e)
\begin{axis}[panel, at={(237.5pt,35.15pt)}, width=185.5pt, height=111pt,
 xmax=500000, ymin=-0.0384, ymax=0.757,
 xtick={0,100000,200000,300000,400000,500000}, ytick={0.0,0.1,0.2,0.3,0.4,0.5,0.6,0.7},
 minor x tick num=4, minor y tick num=4,
 yticklabel style={/pgf/number format/.cd, fixed, fixed zerofill, precision=1},
]
\addplot[sDBD] coordinates {(5000,0.69)(120000,0.685)(140000,0.68)(150000,0.67)(160000,0.65)(165000,0.625)(170000,0.59)(175000,0.555)(180000,0.525)(185000,0.50)(190000,0.49)(195000,0.48)(200000,0.482)(205000,0.48)(210000,0.47)(215000,0.46)(220000,0.455)(225000,0.445)(230000,0.435)(235000,0.42)(240000,0.435)(245000,0.43)(250000,0.42)(255000,0.415)(260000,0.41)(265000,0.40)(270000,0.39)(275000,0.395)(280000,0.385)(285000,0.37)(290000,0.36)(295000,0.345)(300000,0.345)(310000,0.345)(320000,0.343)(330000,0.34)(340000,0.345)(345000,0.335)(350000,0.32)(355000,0.30)(360000,0.26)(365000,0.255)(370000,0.255)(375000,0.245)(380000,0.22)(390000,0.215)(400000,0.215)(408000,0.215)(410000,0.16)(412000,0.10)(415000,0.05)(420000,0.02)(430000,0.02)(435000,0.01)(440000,0.005)(450000,0.0)};
\addplot[sSBD] coordinates {(5000,0.69)(100000,0.69)(200000,0.69)(280000,0.688)(290000,0.68)(300000,0.66)(315000,0.635)(325000,0.60)(335000,0.55)(342000,0.49)(348000,0.40)(353000,0.32)(358000,0.24)(363000,0.17)(368000,0.12)(375000,0.08)(385000,0.05)(395000,0.035)(405000,0.025)(415000,0.02)(425000,0.01)(435000,0.003)(450000,0.001)};
\addplot[sLW] coordinates {(5000,0.69)(100000,0.69)(200000,0.69)(270000,0.685)(280000,0.68)(290000,0.672)(300000,0.64)(305000,0.61)(310000,0.57)(315000,0.52)(320000,0.46)(325000,0.39)(330000,0.30)(335000,0.22)(340000,0.15)(345000,0.10)(350000,0.07)(360000,0.04)(370000,0.02)(380000,0.008)(385000,0.003)};
\addplot[sNR] coordinates {(5000,0.69)(100000,0.69)(150000,0.685)(180000,0.685)(200000,0.67)(210000,0.665)(220000,0.66)(230000,0.645)(235000,0.62)(240000,0.615)(245000,0.60)(248000,0.625)(252000,0.585)(255000,0.57)(260000,0.56)(265000,0.555)(270000,0.56)(275000,0.545)(280000,0.53)(285000,0.54)(290000,0.52)(295000,0.51)(300000,0.52)(305000,0.515)(310000,0.525)(315000,0.51)(320000,0.52)(325000,0.50)(330000,0.515)(335000,0.505)(340000,0.52)(345000,0.51)(350000,0.50)(355000,0.515)(360000,0.52)(365000,0.505)(370000,0.52)(375000,0.50)(380000,0.51)(385000,0.52)(390000,0.50)(395000,0.51)(400000,0.505)(405000,0.52)(410000,0.50)(415000,0.51)(420000,0.495)(425000,0.51)(430000,0.50)(435000,0.49)(440000,0.51)(445000,0.505)(450000,0.50)(455000,0.51)(460000,0.495)(465000,0.505)(470000,0.51)(475000,0.50)(480000,0.48)(485000,0.51)(490000,0.50)(495000,0.50)(500000,0.49)};
\addplot[sNM] coordinates {(5000,0.70)(50000,0.685)(70000,0.67)(90000,0.635)(100000,0.60)(120000,0.55)(140000,0.51)(160000,0.465)(170000,0.45)(180000,0.43)(200000,0.41)(220000,0.39)(240000,0.37)(260000,0.345)(280000,0.32)(300000,0.30)(320000,0.275)(340000,0.25)(360000,0.23)(380000,0.21)(400000,0.19)(420000,0.17)(440000,0.145)(460000,0.135)(480000,0.115)(500000,0.10)};
\addplot[sWSBD] coordinates {(5000,0.688)(10000,0.684)(15000,0.686)(20000,0.683)(25000,0.685)(30000,0.684)(35000,0.686)(40000,0.683)(45000,0.685)(50000,0.684)(55000,0.686)(60000,0.683)(65000,0.685)(70000,0.684)(75000,0.686)(80000,0.683)(85000,0.685)(90000,0.684)(95000,0.686)(100000,0.683)(105000,0.685)(110000,0.684)(115000,0.686)(120000,0.683)(125000,0.685)(130000,0.684)(135000,0.68)(140000,0.675)(145000,0.67)(150000,0.655)(155000,0.635)(158000,0.61)(160000,0.585)(162000,0.565)(164000,0.54)(166000,0.49)(168000,0.44)(170000,0.385)(172000,0.315)(174000,0.275)(176000,0.25)(178000,0.26)(180000,0.26)(182000,0.22)(184000,0.21)(186000,0.225)(188000,0.21)(190000,0.19)(192000,0.175)(194000,0.15)(196000,0.145)(198000,0.12)(200000,0.118)(205000,0.116)(210000,0.115)(215000,0.112)(220000,0.113)(225000,0.11)(228000,0.105)(230000,0.095)(232000,0.08)(234000,0.065)(236000,0.055)(240000,0.05)(245000,0.045)(250000,0.04)(255000,0.035)(260000,0.025)(265000,0.02)(270000,0.018)(275000,0.018)(280000,0.015)(285000,0.01)(290000,0.005)(295000,0.002)(300000,0.001)(305000,0.0)};
\addplot[sSGD, mark=none] coordinates {(5000,0.69)(120000,0.69)(230000,0.69)};
\addplot[sSGD] coordinates {(230000,0.69)(240000,0.688)(250000,0.687)(260000,0.685)(270000,0.68)(280000,0.675)(290000,0.668)(300000,0.655)(310000,0.62)(320000,0.585)(330000,0.53)(339000,0.44)(348000,0.305)(358000,0.175)(368000,0.08)(378000,0.033)(387000,0.012)(397000,0.004)(407000,0.001)(417000,0.0)(427000,0.0)(436000,0.0)};
\addplot[sBAY] coordinates {(0,0.695)(5000,0.70)(10000,0.685)(15000,0.69)(20000,0.676)(25000,0.70)(30000,0.688)(35000,0.695)(40000,0.705)(45000,0.69)(50000,0.708)(55000,0.685)(60000,0.69)(65000,0.698)(70000,0.682)(75000,0.695)(80000,0.69)(85000,0.70)(90000,0.686)(95000,0.693)(100000,0.69)(105000,0.70)(110000,0.685)(115000,0.695)(120000,0.688)(125000,0.70)(130000,0.69)(135000,0.705)(140000,0.69)(145000,0.71)(150000,0.688)(155000,0.695)(160000,0.70)(165000,0.692)(170000,0.678)(175000,0.686)(180000,0.70)(185000,0.69)(190000,0.683)(195000,0.695)(200000,0.69)(205000,0.70)(210000,0.688)(215000,0.693)(220000,0.70)(225000,0.69)(230000,0.685)(235000,0.695)(240000,0.69)(245000,0.70)(250000,0.687)(255000,0.695)(260000,0.69)(265000,0.684)(270000,0.698)(275000,0.69)(280000,0.70)(285000,0.688)(290000,0.695)(295000,0.69)(300000,0.70)(305000,0.688)(310000,0.695)(315000,0.705)(320000,0.69)(325000,0.70)(330000,0.688)(335000,0.71)(340000,0.695)(345000,0.69)(350000,0.70)(355000,0.688)(360000,0.695)(365000,0.70)(370000,0.69)(375000,0.685)(380000,0.698)(385000,0.69)(390000,0.70)(395000,0.688)(400000,0.695)(405000,0.69)(410000,0.705)(415000,0.688)(420000,0.695)(425000,0.69)(430000,0.70)(435000,0.712)(440000,0.69)(445000,0.70)(450000,0.688)(455000,0.705)(460000,0.69)(465000,0.698)(470000,0.688)(475000,0.695)(480000,0.708)(485000,0.69)(490000,0.68)(495000,0.70)(500000,0.685)};
\addplot[sSPSA] coordinates {(0,0.698)(5000,0.684)(10000,0.695)(15000,0.686)(20000,0.699)(25000,0.683)(30000,0.694)(35000,0.688)(40000,0.700)(45000,0.685)(50000,0.697)(55000,0.684)(60000,0.696)(65000,0.686)(70000,0.699)(75000,0.683)(80000,0.694)(85000,0.688)(90000,0.700)(95000,0.685)(100000,0.698)(105000,0.684)(110000,0.695)(115000,0.686)(120000,0.699)(125000,0.683)(130000,0.694)(135000,0.688)(140000,0.700)(145000,0.685)(150000,0.697)(155000,0.684)(160000,0.696)(165000,0.686)(170000,0.699)(175000,0.683)(180000,0.694)(185000,0.688)(190000,0.700)(195000,0.685)(200000,0.698)(205000,0.684)(210000,0.695)(215000,0.686)(220000,0.699)(225000,0.683)(230000,0.694)(235000,0.688)(240000,0.700)(245000,0.685)(250000,0.697)(255000,0.684)(260000,0.696)(265000,0.686)(270000,0.699)(275000,0.683)(280000,0.694)(285000,0.688)(290000,0.700)(295000,0.685)(300000,0.698)(305000,0.684)(310000,0.695)(315000,0.686)(320000,0.699)(325000,0.683)(330000,0.694)(335000,0.688)(340000,0.700)(345000,0.685)(350000,0.697)(355000,0.684)(360000,0.696)(365000,0.686)(370000,0.699)(375000,0.683)(380000,0.694)(385000,0.688)(390000,0.700)(395000,0.685)(400000,0.698)(405000,0.684)(410000,0.695)(415000,0.686)(420000,0.699)(425000,0.683)(430000,0.694)(435000,0.688)(440000,0.700)(445000,0.685)(450000,0.697)(455000,0.684)(460000,0.696)(465000,0.686)(470000,0.699)(475000,0.683)(480000,0.694)(485000,0.688)(490000,0.700)(495000,0.685)(500000,0.697)};
\addplot[sADAM] coordinates {(5000,0.70)(10000,0.69)(18000,0.358)(30000,0.002)(40000,0.0)(50000,0.0)};
\addplot[sWADAM] coordinates {(5000,0.70)(12100,0.66)(15700,0.527)(18400,0.41)(21600,0.377)(24300,0.10)(27000,0.004)(31000,0.002)(34000,0.001)(37000,0.0)(40000,0.0)};
\end{axis}
% ================= (f)
\begin{axis}[panel, at={(458.15pt,34.65pt)}, width=184.5pt, height=110.85pt,
 xmax=200000, ymin=-0.0376, ymax=0.742,
 xtick={0,25000,50000,75000,100000,125000,150000,175000,200000}, ytick={0.0,0.1,0.2,0.3,0.4,0.5,0.6,0.7},
 minor x tick num=4, minor y tick num=4,
 yticklabel style={/pgf/number format/.cd, fixed, fixed zerofill, precision=1},
]
\addplot[sDBD] coordinates {(0,0.695)(20000,0.694)(40000,0.696)(60000,0.694)(80000,0.695)(100000,0.693)(120000,0.695)(140000,0.694)(160000,0.696)(168000,0.70)(175000,0.694)(190000,0.692)(200000,0.688)};
\addplot[sSBD] coordinates {(0,0.695)(25000,0.696)(50000,0.694)(75000,0.695)(100000,0.696)(125000,0.694)(150000,0.695)(175000,0.696)(200000,0.694)};
\addplot[sLW] coordinates {(0,0.695)(25000,0.694)(50000,0.696)(75000,0.694)(100000,0.695)(125000,0.696)(150000,0.694)(168000,0.70)(175000,0.695)(200000,0.694)};
\addplot[sNR] coordinates {(0,0.695)(25000,0.696)(50000,0.694)(75000,0.695)(100000,0.694)(125000,0.696)(150000,0.695)(175000,0.694)(200000,0.695)};
\addplot[sWSBD] coordinates {(3000,0.695)(13000,0.692)(22500,0.697)(32500,0.699)(42000,0.693)(51500,0.696)(61000,0.692)(74500,0.699)(84000,0.694)(94000,0.692)(103500,0.690)(113000,0.696)(124000,0.691)(133500,0.693)(145000,0.699)(155000,0.691)(165000,0.695)(175000,0.692)(185000,0.691)(195000,0.696)};
\addplot[sSGD] coordinates {(0,0.695)(20000,0.693)(40000,0.697)(60500,0.699)(80000,0.694)(100500,0.688)(120000,0.695)(140000,0.693)(160500,0.690)(180000,0.694)(200000,0.695)};
\addplot[sNM] coordinates {(0,0.695)(8000,0.692)(16000,0.697)(24000,0.693)(32000,0.696)(40000,0.692)(48000,0.697)(56000,0.694)(64000,0.696)(72000,0.692)(80000,0.697)(88000,0.693)(96000,0.696)(104000,0.692)(112000,0.697)(120000,0.694)(128000,0.696)(136000,0.692)(144000,0.697)(152000,0.693)(160000,0.696)(168000,0.692)(176000,0.697)(184000,0.694)(192000,0.696)(200000,0.693)};
\addplot[sSPSA] coordinates {(0,0.697)(4000,0.692)(8000,0.699)(12000,0.693)(16000,0.696)(20000,0.690)(24000,0.698)(28000,0.694)(32000,0.700)(36000,0.691)(40000,0.697)(44000,0.692)(48000,0.699)(52000,0.693)(56000,0.696)(60000,0.690)(64000,0.698)(68000,0.694)(72000,0.700)(76000,0.691)(80000,0.697)(84000,0.692)(88000,0.699)(92000,0.693)(96000,0.696)(100000,0.690)(104000,0.698)(108000,0.694)(112000,0.700)(116000,0.691)(120000,0.697)(124000,0.692)(128000,0.699)(132000,0.693)(136000,0.696)(140000,0.690)(144000,0.698)(148000,0.694)(152000,0.700)(156000,0.691)(160000,0.697)(164000,0.692)(168000,0.699)(172000,0.693)(176000,0.696)(180000,0.690)(184000,0.698)(188000,0.694)(192000,0.700)(196000,0.691)(200000,0.697)};
\addplot[sBAY] coordinates {(0,0.695)(4000,0.692)(8000,0.694)(12000,0.690)(16000,0.693)(20000,0.689)(24000,0.694)(28000,0.691)(32000,0.695)(36000,0.692)(40000,0.694)(44000,0.699)(48000,0.693)(52000,0.690)(56000,0.694)(60000,0.691)(64000,0.695)(68000,0.689)(72000,0.693)(76000,0.690)(80000,0.695)(84000,0.691)(88000,0.694)(92000,0.690)(96000,0.693)(100000,0.689)(104000,0.694)(108000,0.691)(112000,0.695)(116000,0.690)(120000,0.694)(124000,0.692)(128000,0.695)(132000,0.690)(136000,0.693)(140000,0.691)(144000,0.695)(148000,0.689)(152000,0.694)(156000,0.691)(160000,0.695)(164000,0.690)(168000,0.694)(172000,0.691)(176000,0.695)(180000,0.692)(184000,0.694)(188000,0.690)(192000,0.693)(196000,0.690)(200000,0.691)};
\addplot[sADAM] coordinates {(0,0.695)(20000,0.693)(40000,0.69)(60300,0.686)(80400,0.677)(100500,0.259)(120500,0.0)(140600,0.0)};
\addplot[sWADAM] coordinates {(0,0.695)(6700,0.692)(13300,0.69)(19900,0.69)(26600,0.69)(32500,0.69)(38500,0.688)(44600,0.68)(50600,0.656)(56700,0.624)(62900,0.60)(69000,0.54)(75000,0.338)(81100,0.259)(87300,0.174)(93400,0.165)(99600,0.027)(105500,0.001)(111700,0.0)};
\end{axis}
% y-axis labels
\node[ylab] at (6.65pt,242.5pt) {Cross Entropy Loss};
\node[ylab] at (225.35pt,242.4pt) {Cross Entropy Loss};
\node[ylab] at (446pt,242.7pt) {Cross Entropy Loss};
\node[ylab] at (6.65pt,90.5pt) {Cross Entropy Loss};
\node[ylab] at (225pt,90.65pt) {Cross Entropy Loss};
\node[ylab] at (446pt,90.1pt) {Cross Entropy Loss};
% captions
\node[font=\capfont] at (110pt,164.5pt) {(a) MNIST 4 Qubits 2 Layers};
\node[font=\capfont] at (330pt,164.5pt) {(b) MNIST 8 Qubits 3 Layers};
\node[font=\capfont] at (549pt,164.5pt) {(c) MNIST 10 Qubits 5 Layers};
\node[font=\capfont] at (103.5pt,10pt) {(d) Parity 4 Qubits 2 Layers};
\node[font=\capfont] at (326pt,10pt) {(e) Parity 8 Qubits 3 Layers};
\node[font=\capfont] at (546pt,10pt) {(f) Parity 10 Qubits 5 Layers};
\end{tikzpicture}
\end{document}
